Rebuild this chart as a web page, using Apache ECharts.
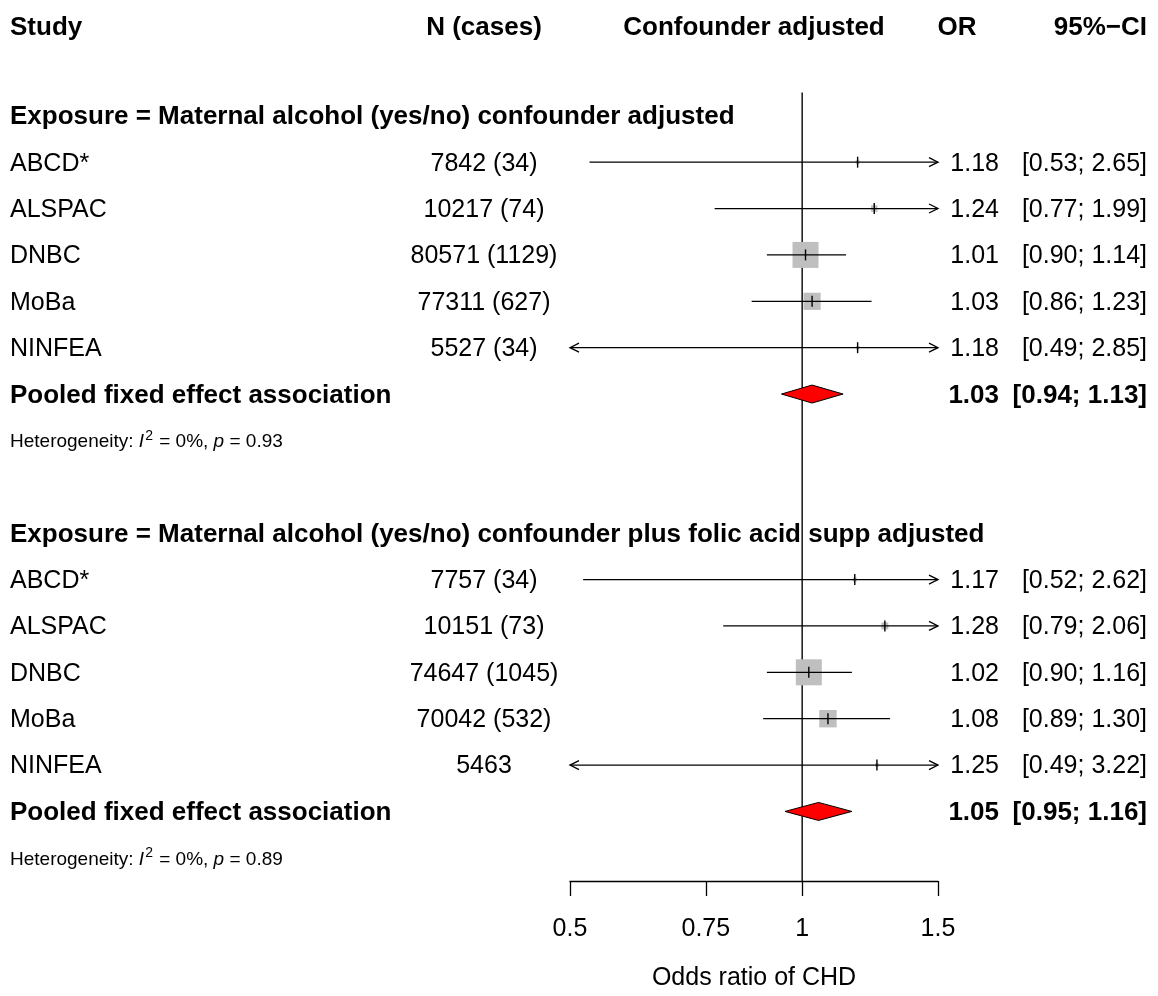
<!DOCTYPE html>
<html>
<head>
<meta charset="utf-8">
<script src="https://cdn.jsdelivr.net/npm/echarts@6/dist/echarts.min.js"></script>
<style>
html, body { margin: 0; padding: 0; background: #fff; }
#main { width: 1158px; height: 996px; }
</style>
</head>
<body>
<div id="main"></div>
<script>
// studies & values
var studies = ['ABCD*', 'ALSPAC', 'DNBC', 'MoBa', 'NINFEA'];

var groupTitles = [
  'Exposure = Maternal alcohol (yes/no) confounder adjusted',
  'Exposure = Maternal alcohol (yes/no) confounder plus folic acid supp adjusted'
];

var nCases1 = ['7842 (34)', '10217 (74)', '80571 (1129)', '77311 (627)', '5527 (34)'];
var or1 = [1.18, 1.24, 1.01, 1.03, 1.18];
var lo1 = [0.53, 0.77, 0.90, 0.86, 0.49];
var hi1 = [2.65, 1.99, 1.14, 1.23, 2.85];
var pooled1 = [1.03, 0.94, 1.13];
var het1 = ['0%', '0.93'];

var nCases2 = ['7757 (34)', '10151 (73)', '74647 (1045)', '70042 (532)', '5463'];
var or2 = [1.17, 1.28, 1.02, 1.08, 1.25];
var lo2 = [0.52, 0.79, 0.90, 0.89, 0.49];
var hi2 = [2.62, 2.06, 1.16, 1.30, 3.22];
var pooled2 = [1.05, 0.95, 1.16];
var het2 = ['0%', '0.89'];

var tickValues = [0.5, 0.75, 1, 1.5];
var tickLabels = ['0.5', '0.75', '1', '1.5'];

var xMin = 0.5, xMax = 1.5;
var FONT = '"Liberation Sans", Arial, Helvetica, sans-serif';

var groups = [
  { n: nCases1, or: or1, lo: lo1, hi: hi1, pooled: pooled1, het: het1 },
  { n: nCases2, or: or2, lo: lo2, hi: hi2, pooled: pooled2, het: het2 }
];

function fmt(v) { return v.toFixed(2); }

var studyData = [];   // [or, lo, hi, boxSize, row]
var pooledData = [];  // [or, lo, hi, row]
var textRows = [];    // {row, items:[...]}

// column headers
textRows.push({ row: -1.93, items: [
  { t: 'Study', x: 10, a: 'left', b: true },
  { t: 'N (cases)', x: 484, a: 'center', b: true },
  { t: 'Confounder adjusted', x: 754, a: 'center', b: true },
  { t: 'OR', x: 957, a: 'center', b: true },
  { t: '95%\u2212CI', x: 1147, a: 'right', b: true }
]});

groups.forEach(function (g, gi) {
  var start = gi * 9;
  // box size from inverse-variance weight
  var w = g.or.map(function (v, i) {
    var se = (Math.log(g.hi[i]) - Math.log(g.lo[i])) / 3.92;
    return 1 / (se * se);
  });
  var wMax = Math.max.apply(null, w);
  textRows.push({ row: start, items: [{ t: groupTitles[gi], x: 10, a: 'left', b: true }] });
  studies.forEach(function (s, i) {
    var row = start + 1 + i;
    studyData.push([g.or[i], g.lo[i], g.hi[i], 26 * Math.sqrt(w[i] / wMax), row]);
    textRows.push({ row: row, items: [
      { t: s, x: 10, a: 'left' },
      { t: g.n[i], x: 484, a: 'center' },
      { t: fmt(g.or[i]), x: 999, a: 'right' },
      { t: '[' + fmt(g.lo[i]) + '; ' + fmt(g.hi[i]) + ']', x: 1147, a: 'right' }
    ]});
  });
  var pr = start + 6;
  pooledData.push([g.pooled[0], g.pooled[1], g.pooled[2], pr]);
  textRows.push({ row: pr, items: [
    { t: 'Pooled fixed effect association', x: 10, a: 'left', b: true },
    { t: fmt(g.pooled[0]), x: 999, a: 'right', b: true },
    { t: '[' + fmt(g.pooled[1]) + '; ' + fmt(g.pooled[2]) + ']', x: 1147, a: 'right', b: true }
  ]});
  textRows.push({ row: start + 7, items: [
    { het: true, t: '{n|Heterogeneity: }{i|I}{s|2}{n| = ' + g.het[0] + ', }{i|p}{n| = ' + g.het[1] + '}', x: 10, a: 'left' }
  ]});
});

var myChart = echarts.init(document.getElementById('main'));

function arrow(x, y, dir) {
  // open arrow head, dir = 1 points right, -1 points left
  return {
    type: 'polyline',
    shape: { points: [[x - dir * 9, y - 4.5], [x, y], [x - dir * 9, y + 4.5]] },
    style: { stroke: '#000', fill: null, lineWidth: 1.3 }
  };
}

var option = {
  animation: false,
  grid: { left: 570, width: 368, top: 92.6, height: 795.6 },
  xAxis: {
    type: 'log',
    min: xMin,
    max: xMax,
    axisLine: { show: true, onZero: false, lineStyle: { color: '#000', width: 1.3 } },
    axisTick: { show: true, customValues: tickValues, length: 15, lineStyle: { color: '#000', width: 1.3 } },
    axisLabel: {
      customValues: tickValues,
      fontSize: 25, fontFamily: FONT, color: '#000', margin: 36,
      formatter: function (v) {
        var best = 0;
        tickValues.forEach(function (t, i) { if (Math.abs(t - v) < Math.abs(tickValues[best] - v)) best = i; });
        return tickLabels[best];
      }
    },
    splitLine: { show: false },
    name: 'Odds ratio of CHD',
    nameLocation: 'middle',
    nameGap: 85,
    nameTextStyle: { fontSize: 25, fontFamily: FONT, color: '#000' }
  },
  yAxis: { type: 'value', min: -0.5, max: 16.5, inverse: true, show: false },
  series: [
    {
      // reference line at OR = 1
      type: 'custom',
      data: [[1]],
      renderItem: function (params, api) {
        var p0 = api.coord([api.value(0), -0.5]);
        var p1 = api.coord([api.value(0), 16.5]);
        return {
          type: 'line',
          shape: { x1: p0[0], y1: p0[1], x2: p1[0], y2: p1[1] },
          style: { stroke: '#222', lineWidth: 1.6 }
        };
      }
    },
    {
      // study estimates
      type: 'custom',
      data: studyData,
      renderItem: function (params, api) {
        var est = api.value(0), lo = api.value(1), hi = api.value(2), size = api.value(3), row = api.value(4);
        var c = api.coord([est, row]);
        var pl = api.coord([Math.max(lo, xMin), row]);
        var ph = api.coord([Math.min(hi, xMax), row]);
        var children = [
          {
            type: 'rect',
            shape: { x: c[0] - size / 2, y: c[1] - size / 2, width: size, height: size },
            style: { fill: '#bfbfbf' }
          },
          {
            type: 'line',
            shape: { x1: pl[0], y1: pl[1], x2: ph[0], y2: ph[1] },
            style: { stroke: '#000', lineWidth: 1.3 }
          },
          {
            type: 'line',
            shape: { x1: c[0], y1: c[1] - 5.5, x2: c[0], y2: c[1] + 5.5 },
            style: { stroke: '#000', lineWidth: 1.4 }
          }
        ];
        if (lo < xMin) children.push(arrow(pl[0], pl[1], -1));
        if (hi > xMax) children.push(arrow(ph[0], ph[1], 1));
        return { type: 'group', children: children };
      }
    },
    {
      // pooled diamonds
      type: 'custom',
      data: pooledData,
      renderItem: function (params, api) {
        var row = api.value(3);
        var c = api.coord([api.value(0), row]);
        var l = api.coord([api.value(1), row]);
        var r = api.coord([api.value(2), row]);
        return {
          type: 'polygon',
          shape: { points: [[l[0], l[1]], [c[0], c[1] - 9], [r[0], r[1]], [c[0], c[1] + 9]] },
          style: { fill: '#ff0000', stroke: '#000', lineWidth: 1 }
        };
      }
    },
    {
      // text columns
      type: 'custom',
      data: textRows.map(function (r, i) { return [1, r.row, i]; }),
      renderItem: function (params, api) {
        var rowDef = textRows[api.value(2)];
        var y = api.coord([1, api.value(1)])[1] + 1.5;
        var children = rowDef.items.map(function (it) {
          if (it.het) {
            return {
              type: 'text',
              style: {
                x: it.x, y: y, text: it.t, align: 'left', verticalAlign: 'middle', fill: '#000',
                rich: {
                  n: { fontSize: 19, fontFamily: FONT, fill: '#000' },
                  i: { fontSize: 19, fontFamily: FONT, fontStyle: 'italic', fill: '#000' },
                  s: { fontSize: 14, fontFamily: FONT, fill: '#000', verticalAlign: 'top', padding: [0, 1, 12, 1] }
                }
              }
            };
          }
          return {
            type: 'text',
            style: {
              x: it.x, y: y, text: it.t, align: it.a, verticalAlign: 'middle',
              fontSize: it.b ? 26 : 25, fontFamily: FONT, fontWeight: it.b ? 'bold' : 'normal', fill: '#000'
            }
          };
        });
        return { type: 'group', children: children };
      }
    }
  ]
};

myChart.setOption(option);
</script>
</body>
</html>
